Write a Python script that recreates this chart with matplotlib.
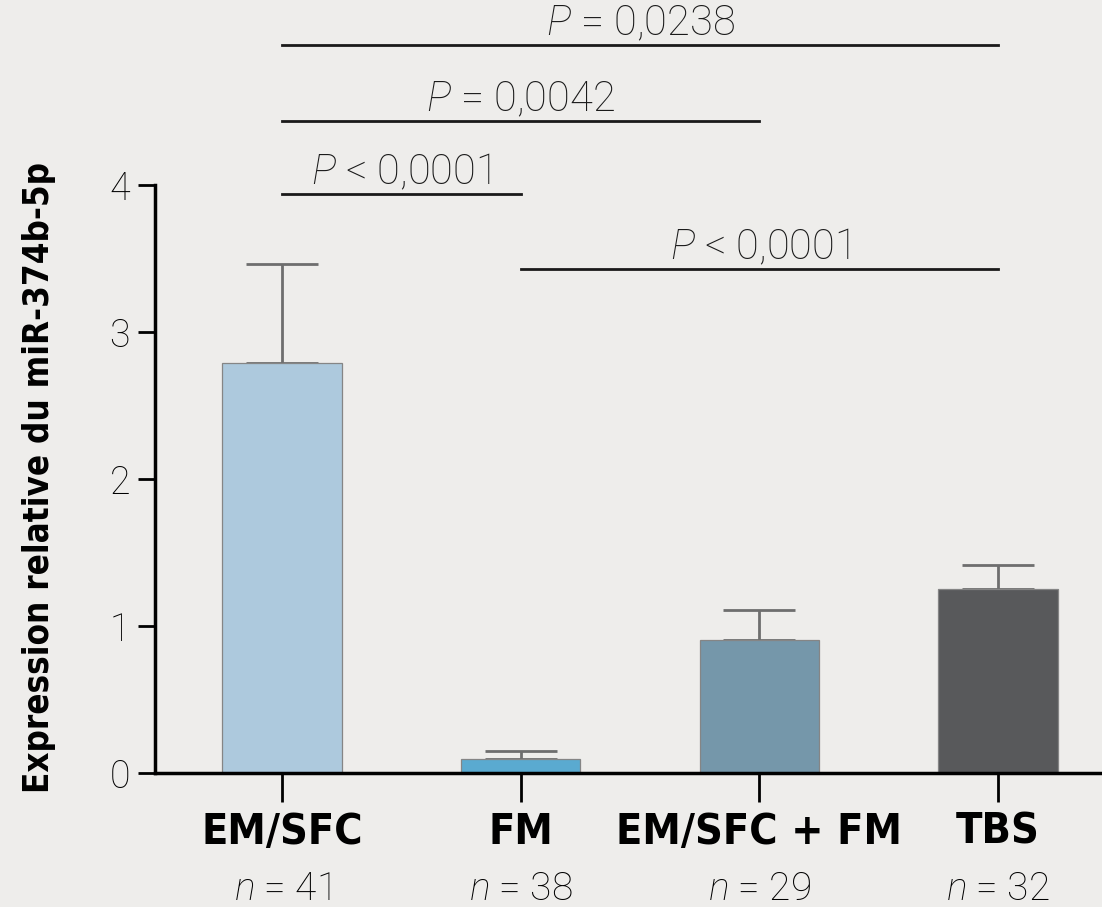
import matplotlib
matplotlib.use('Agg')
import matplotlib.pyplot as plt
import numpy as np

# groups and values
groups = ['EM/SFC', 'FM', 'EM/SFC + FM', 'TBS']
n_labels = ['41', '38', '29', '32']
means = [2.79, 0.095, 0.905, 1.25]
errs = [0.67, 0.055, 0.205, 0.165]
colors = ['#adc9dd', '#5aaad0', '#7597aa', '#58595b']

# significance brackets: (i, j, level, text)
sig_i = [0, 0, 0, 1]
sig_j = [3, 2, 1, 3]
sig_y = [4.95, 4.435, 3.94, 3.43]
sig_txt = [r'$P$ = 0,0238', r'$P$ = 0,0042', r'$P$ < 0,0001', r'$P$ < 0,0001']

bg = '#eeedeb'
light = ['Roboto', 'DejaVu Sans']
plt.rcParams['mathtext.fontset'] = 'custom'
plt.rcParams['mathtext.it'] = 'Roboto:italic:light'
plt.rcParams['mathtext.rm'] = 'Roboto:light'

fig = plt.figure(figsize=(11.02, 9.07), dpi=100, facecolor=bg)
ax = fig.add_axes([155/1102, (907-773)/907, 1 - 155/1102, (773-8.6)/907])
ax.set_facecolor(bg)

x = np.arange(len(groups))
ax.bar(x, means, width=0.5, color=colors, edgecolor='#858585', linewidth=0.9, zorder=2)
ax.errorbar(x, means, yerr=[np.zeros(len(errs)), errs], fmt='none', ecolor='#6e6e6e',
            elinewidth=2, capsize=26, capthick=2, zorder=1)

for i, j, yy, t in zip(sig_i, sig_j, sig_y, sig_txt):
    ax.plot([x[i], x[j]], [yy, yy], color='#1a1a1a', lw=2, clip_on=False)
    ax.text((x[i] + x[j]) / 2, yy + 0.005, t, ha='center', va='bottom', fontsize=30,
            family=light, fontweight='light', color='#1a1a1a')

ax.set_xlim(-0.532, 3.435)
ax.set_ylim(0, 5.2)
ax.spines['top'].set_visible(False)
ax.spines['right'].set_visible(False)
ax.spines['left'].set_bounds(0, 4)
ax.spines['left'].set_linewidth(2.5)
ax.spines['bottom'].set_linewidth(2.5)
ax.set_yticks([0, 1, 2, 3, 4])
ax.set_yticklabels(['0', '1', '2', '3', '4'], family=light, fontweight='light', fontsize=27)
ax.tick_params(axis='y', length=12, width=2, pad=6)
ax.tick_params(axis='x', length=21, width=2, pad=6)
ax.set_xticks(x)
ax.set_xticklabels(groups, family='DejaVu Sans', fontstretch='condensed',
                   fontweight='bold', fontsize=31)

for xi, n in zip(x, n_labels):
    ax.text(xi, -0.866, r'$n$ = ' + n, ha='center', va='baseline', fontsize=28,
            family=light, fontweight='light', clip_on=False)

ax.set_ylabel('Expression relative du miR-374b-5p', family='DejaVu Sans',
              fontstretch='condensed', fontweight='bold', fontsize=25)
ax.yaxis.set_label_coords(-0.105, 0.387)

fig.savefig('out.png', dpi=100, facecolor=bg)
